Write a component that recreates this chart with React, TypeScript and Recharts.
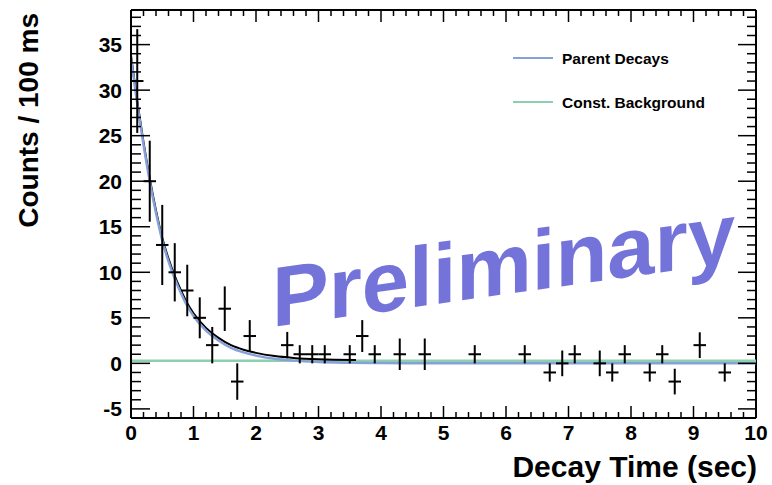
import React from "react";
import { ComposedChart, Line, Scatter, ErrorBar, XAxis, YAxis, ReferenceLine } from "recharts";

// measured points (bin centre, net counts, error)
const binX = [0.1, 0.3, 0.5, 0.7, 0.9, 1.1, 1.3, 1.5, 1.7, 1.9, 2.5, 2.7, 2.9, 3.1, 3.5, 3.7, 3.9, 4.3, 4.7, 5.5, 6.3, 6.7, 6.9, 7.1, 7.5, 7.7, 7.9, 8.3, 8.5, 8.7, 9.1, 9.5];
const counts = [31, 20, 13, 10, 8, 5, 2, 6, -2, 3, 2, 1, 1, 1, 1, 3, 1, 1, 1, 1, 1, -1, 0, 1, 0, -1, 1, -1, 1, -2, 2, -1];
const countErr = [5.7, 4.45, 4.4, 3.2, 2.83, 2.25, 2, 2.45, 2, 1.75, 1.45, 1, 1, 1, 1, 1.75, 1, 1.73, 1.73, 1, 1, 1, 1.41, 1, 1.41, 1, 1, 1, 1, 1.41, 1.41, 1];
const halfBin = 0.1;

// fit curves
const curveX = [0, 0.1, 0.2, 0.3, 0.4, 0.5, 0.6, 0.7, 0.8, 0.9, 1.0, 1.2, 1.4, 1.6, 1.8, 2.0, 2.3, 2.6, 3.0, 3.5, 4.0, 5.0, 6.0, 8.0, 10];
const parentFit = [33.5, 28.5, 24, 20, 16.5, 13.5, 11.2, 9.3, 7.7, 6.3, 5.2, 3.6, 2.5, 1.7, 1.2, 0.85, 0.5, 0.3, 0.15, 0.07, 0.03, 0.01, 0, 0, 0];
const totalX = [0, 0.1, 0.2, 0.3, 0.4, 0.5, 0.6, 0.7, 0.8, 0.9, 1.0, 1.2, 1.4, 1.6, 1.8, 2.0, 2.3, 2.6, 3.0, 3.6];
const totalFit = [33.8, 28.8, 24.3, 20.3, 16.8, 13.8, 11.5, 9.6, 8.0, 6.6, 5.5, 3.9, 2.8, 2.0, 1.5, 1.15, 0.8, 0.6, 0.45, 0.37];
const bkgX = [0, 10];
const bkgLevel = [0.3, 0.3];

const xMajor = [0, 1, 2, 3, 4, 5, 6, 7, 8, 9, 10];
const yMajor = [-5, 0, 5, 10, 15, 20, 25, 30, 35];
const xDomain: [number, number] = [0, 10];
const yDomain: [number, number] = [-6, 38.8];

const legendNames = ["Parent Decays", "Const. Background"];

const BLUE = "#86a0d8";
const GREEN = "#8cd0b0";
const FONT = "'Liberation Sans', Arial, Helvetica, sans-serif";

const points = binX.map((x, i) => ({ x, y: counts[i], err: countErr[i], xerr: halfBin }));
const parentData = curveX.map((x, i) => ({ x, y: parentFit[i] }));
const totalData = totalX.map((x, i) => ({ x, y: totalFit[i] }));
const bkgData = bkgX.map((x, i) => ({ x, y: bkgLevel[i] }));

const xTicks = Array.from({ length: 51 }, (_, i) => Math.round(i * 2) / 10);
const yTicks = Array.from({ length: 44 }, (_, i) => i - 5);

const PLOT_H = 408;
const PLOT_W = 625;

function XTick(props: any) {
  const { x, y, payload } = props;
  const major = xMajor.includes(payload.value);
  const len = major ? 12 : 6;
  const top = y - PLOT_H;
  return (
    <g>
      <line x1={x} x2={x} y1={y} y2={y - len} stroke="#000" strokeWidth={1.5} />
      <line x1={x} x2={x} y1={top} y2={top + len} stroke="#000" strokeWidth={1.5} />
      {major && (
        <text x={x} y={y + 22} textAnchor="middle" fontFamily={FONT} fontWeight="bold" fontSize={21} fill="#000">
          {payload.value}
        </text>
      )}
    </g>
  );
}

function YTick(props: any) {
  const { x, y, payload } = props;
  const major = yMajor.includes(payload.value);
  const right = x + PLOT_W;
  return (
    <g>
      <line x1={x} x2={x + (major ? 19 : 10)} y1={y} y2={y} stroke="#000" strokeWidth={1.5} />
      <line x1={right} x2={right - (major ? 18 : 9)} y1={y} y2={y} stroke="#000" strokeWidth={1.5} />
      {major && (
        <text x={x - 9} y={y + 7.5} textAnchor="end" fontFamily={FONT} fontWeight="bold" fontSize={21} fill="#000">
          {payload.value}
        </text>
      )}
    </g>
  );
}

const noDot = () => <g />;

export default function App() {
  return (
    <div style={{ position: "absolute", left: 0, top: 0, width: 772, height: 485, background: "#fff" }}>
      <ComposedChart width={772} height={485} margin={{ top: 10, right: 16, bottom: 0, left: 0 }}>
        <XAxis
          type="number"
          dataKey="x"
          domain={xDomain}
          allowDataOverflow
          ticks={xTicks}
          interval={0}
          tickSize={0}
          tickMargin={0}
          tickLine={false}
          height={67}
          axisLine={{ stroke: "#000", strokeWidth: 2 }}
          tick={<XTick />}
        />
        <YAxis
          type="number"
          domain={yDomain}
          allowDataOverflow
          ticks={yTicks}
          interval={0}
          tickSize={0}
          tickMargin={0}
          tickLine={false}
          width={131}
          axisLine={{ stroke: "#000", strokeWidth: 2 }}
          tick={<YTick />}
        />
        <ReferenceLine x={10} stroke="#000" strokeWidth={2} />
        <ReferenceLine y={38.8} stroke="#000" strokeWidth={2} />
        <Line data={bkgData} dataKey="y" stroke={GREEN} strokeWidth={2.5} dot={false} isAnimationActive={false} />
        <Line data={totalData} dataKey="y" type="monotone" stroke="#000" strokeWidth={2} dot={false} isAnimationActive={false} />
        <Line data={parentData} dataKey="y" type="monotone" stroke={BLUE} strokeWidth={2.5} dot={false} isAnimationActive={false} />
        <Scatter data={points} dataKey="y" shape={noDot} isAnimationActive={false}>
          <ErrorBar dataKey="err" direction="y" width={0} stroke="#000" strokeWidth={2} isAnimationActive={false} />
          <ErrorBar dataKey="xerr" direction="x" width={0} stroke="#000" strokeWidth={2} isAnimationActive={false} />
        </Scatter>
      </ComposedChart>
      <svg width={772} height={485} style={{ position: "absolute", left: 0, top: 0, pointerEvents: "none" }}>
        <text
          transform="translate(38,13) rotate(-90)"
          textAnchor="end"
          fontFamily={FONT}
          fontWeight="bold"
          fontSize={28}
          fill="#000"
        >
          Counts / 100 ms
        </text>
        <text x={757} y={477} textAnchor="end" fontFamily={FONT} fontWeight="bold" fontSize={30} fill="#000">
          Decay Time (sec)
        </text>
        {legendNames.map((name, i) => (
          <g key={name}>
            <line x1={513} x2={553} y1={58 + i * 44} y2={58 + i * 44} stroke={i === 0 ? BLUE : GREEN} strokeWidth={2} />
            <text x={562} y={63.5 + i * 44} fontFamily={FONT} fontWeight="bold" fontSize={15.5} fill="#000">
              {name}
            </text>
          </g>
        ))}
        <text
          transform="translate(272,327) skewY(-8)"
          fontFamily={FONT}
          fontWeight="bold"
          fontSize={85}
          fill="#7373d9"
        >
          Preliminary
        </text>
      </svg>
    </div>
  );
}
